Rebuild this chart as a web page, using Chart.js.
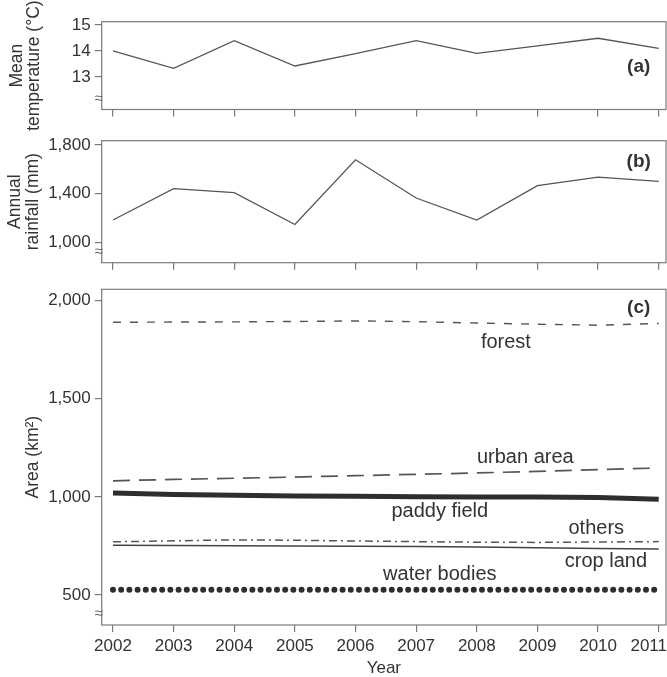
<!DOCTYPE html>
<html>
<head>
<meta charset="utf-8">
<script src="https://cdn.jsdelivr.net/npm/chart.js@4.4.1/dist/chart.umd.min.js"></script>
<style>
  body { margin: 0; background: #fff; width: 667px; height: 677px; position: relative; overflow: hidden; }
  canvas { position: absolute; left: 0; }
</style>
</head>
<body>
<canvas id="chartA" width="667" height="140" style="top:0px"></canvas>
<canvas id="chartB" width="667" height="145" style="top:125px"></canvas>
<canvas id="chartC" width="667" height="407" style="top:270px"></canvas>
<script>
// values
var years = [2002, 2003, 2004, 2005, 2006, 2007, 2008, 2009, 2010, 2011];

var meanTemp = [14.0, 13.33, 14.4, 13.42, 13.9, 14.4, 13.91, 14.2, 14.49, 14.1];
var rainfall = [1183, 1441, 1408, 1146, 1678, 1364, 1182, 1465, 1536, 1500];

var forest      = [1890, 1891, 1892, 1894, 1897, 1893, 1886, 1880, 1875, 1884];
var urbanArea   = [1082, 1089, 1095, 1101, 1108, 1115, 1122, 1130, 1139, 1147];
var paddyField  = [1020, 1012, 1008, 1005, 1003, 1001, 1000, 999, 997, 988];
var others      = [771, 776, 781, 779, 775, 772, 769, 768, 770, 772];
var cropLand    = [753, 752, 751, 750, 749, 747, 745, 741, 737, 734];
var waterBodies = [527, 527, 527, 527, 527, 527, 527, 527, 527, 527];

var tempTicks = [13, 14, 15];
var rainTicks = [1000, 1400, 1800];
var areaTicks = [500, 1000, 1500, 2000];

var FONT = '"Liberation Sans", Arial, Helvetica, sans-serif';
var INK = '#333';
var AXIS = '#7a7a7a';

function pts(vals) {
    return years.map(function(yr, i) { return { x: yr, y: vals[i] }; });
}

// frame, axis break mark and text notes placed in data units
function notesPlugin(notes) {
    return {
        id: 'notes',
        beforeDraw: function(chart) {
            // the last year label is pushed in so it ends at the right edge
            var xs = chart.scales.x;
            if (!xs.options.ticks.display) return;
            var items = xs.getLabelItems();
            var last = items[items.length - 1];
            if (last) {
                last.options.translation[0] = chart.width;
                last.options.textAlign = 'right';
            }
        },
        afterDatasetsDraw: function(chart) {
            var ctx = chart.ctx, a = chart.chartArea;
            var xs = chart.scales.x, ys = chart.scales.y;
            ctx.save();
            ctx.strokeStyle = AXIS;
            ctx.lineWidth = 1.2;
            ctx.strokeRect(a.left, a.top, a.right - a.left, a.bottom - a.top);

            ctx.fillStyle = '#666';
            ctx.font = 'italic 15px ' + FONT;
            ctx.textAlign = 'center';
            ctx.textBaseline = 'middle';
            ctx.fillText('\u2248', a.left - 3, a.bottom - 11);

            ctx.fillStyle = INK;
            notes.forEach(function(n) {
                ctx.font = n.font;
                ctx.fillText(n.text, xs.getPixelForValue(n.x), ys.getPixelForValue(n.y));
            });
            ctx.restore();
        }
    };
}

function makePanel(id, cfg) {
    return new Chart(document.getElementById(id), {
        type: 'line',
        data: { datasets: cfg.datasets },
        options: {
            responsive: false,
            animation: false,
            events: [],
            layout: { padding: { top: cfg.padTop, right: 1, left: 0, bottom: 0 } },
            plugins: { legend: { display: false }, tooltip: { enabled: false } },
            elements: { point: { radius: 0 }, line: { tension: 0 } },
            scales: {
                x: {
                    type: 'linear',
                    min: 2001.814,
                    max: 2011.12,
                    afterBuildTicks: function(s) {
                        s.ticks = years.map(function(v) { return { value: v }; });
                    },
                    afterFit: function(s) {
                        s.height = cfg.xHeight;
                        s.paddingLeft = 0;
                        s.paddingRight = 0;
                    },
                    grid: { drawOnChartArea: false, drawTicks: true, tickLength: 7, color: AXIS, lineWidth: 1.2 },
                    border: { display: false },
                    ticks: {
                        display: cfg.showYears,
                        autoSkip: false,
                        maxRotation: 0,
                        padding: 4,
                        color: INK,
                        font: { family: FONT, size: 17 },
                        callback: function(v) { return String(v); }
                    },
                    title: {
                        display: cfg.showYears,
                        text: 'Year',
                        color: INK,
                        font: { family: FONT, size: 17, lineHeight: 1 },
                        padding: { top: 0, bottom: 0 }
                    }
                },
                y: {
                    min: cfg.yMin,
                    max: cfg.yMax,
                    afterBuildTicks: function(s) {
                        s.ticks = cfg.yTicks.map(function(v) { return { value: v }; });
                    },
                    afterFit: function(s) {
                        s.width = 101.7;
                        s.paddingTop = 0;
                        s.paddingBottom = 0;
                    },
                    grid: { drawOnChartArea: false, drawTicks: true, tickLength: 7, color: AXIS, lineWidth: 1.2 },
                    border: { display: false },
                    ticks: {
                        padding: 4,
                        color: INK,
                        font: { family: FONT, size: 17 },
                        callback: function(v) { return v.toLocaleString('en-US'); }
                    },
                    title: {
                        display: true,
                        text: cfg.yTitle,
                        color: INK,
                        font: { family: FONT, size: 17.5, lineHeight: 1 },
                        padding: { top: cfg.titlePad, bottom: 0 }
                    }
                }
            }
        },
        plugins: [notesPlugin(cfg.notes)]
    });
}

var thinLine = { borderColor: '#555', borderWidth: 1.3, fill: false };

makePanel('chartA', {
    padTop: 21.7, xHeight: 30.5, showYears: false,
    yMin: 11.74, yMax: 15.13, yTicks: tempTicks,
    yTitle: ['Mean', 'temperature (\u00B0C)'], titlePad: 8,
    datasets: [Object.assign({ data: pts(meanTemp) }, thinLine)],
    notes: [{ text: '(a)', x: 2010.67, y: 13.39, font: 'bold 19px ' + FONT }]
});

makePanel('chartB', {
    padTop: 15.7, xHeight: 7.3, showYears: false,
    yMin: 832, yMax: 1835, yTicks: rainTicks,
    yTitle: ['Annual', 'rainfall (mm)'], titlePad: 6.5,
    datasets: [Object.assign({ data: pts(rainfall) }, thinLine)],
    notes: [{ text: '(b)', x: 2010.67, y: 1664, font: 'bold 19px ' + FONT }]
});

var lbl = '20px ' + FONT;
makePanel('chartC', {
    padTop: 19.3, xHeight: 52, showYears: true,
    yMin: 347, yMax: 2058, yTicks: areaTicks,
    yTitle: 'Area (km\u00B2)', titlePad: 24,
    datasets: [
        { data: pts(forest), borderColor: '#555', borderWidth: 1.4, borderDash: [8, 9] },
        { data: pts(urbanArea), borderColor: '#555', borderWidth: 1.7, borderDash: [17, 9] },
        { data: pts(paddyField), borderColor: '#2e2e2e', borderWidth: 5 },
        { data: pts(others), borderColor: '#555', borderWidth: 1.5, borderDash: [8, 4, 2, 4] },
        { data: pts(cropLand), borderColor: '#444', borderWidth: 1.5 },
        { data: pts(waterBodies), borderColor: '#2e2e2e', borderWidth: 6, borderDash: [0, 8.2], borderCapStyle: 'round' }
    ],
    notes: [
        { text: '(c)', x: 2010.67, y: 1963, font: 'bold 19px ' + FONT },
        { text: 'forest', x: 2008.48, y: 1789, font: lbl },
        { text: 'urban area', x: 2008.8, y: 1200, font: lbl },
        { text: 'paddy field', x: 2007.39, y: 927, font: lbl },
        { text: 'others', x: 2009.97, y: 840, font: lbl },
        { text: 'crop land', x: 2010.13, y: 673, font: lbl },
        { text: 'water bodies', x: 2007.39, y: 603, font: lbl }
    ]
});
</script>
</body>
</html>
